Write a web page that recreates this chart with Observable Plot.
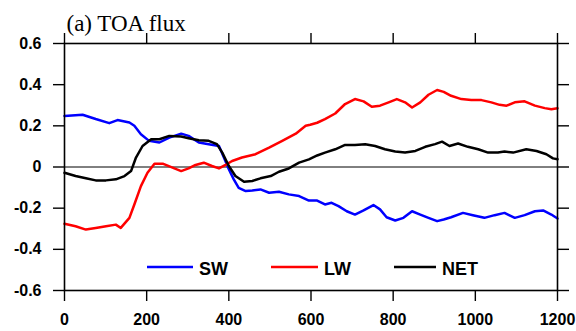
<!DOCTYPE html>
<html>
<head>
<meta charset="utf-8">
<script src="https://cdn.jsdelivr.net/npm/d3@7"></script>
<script src="https://cdn.jsdelivr.net/npm/@observablehq/plot@0.6"></script>
<style>
  html, body { margin: 0; padding: 0; background: #fff; }
  #chart { width: 576px; height: 331px; }
</style>
</head>
<body>
<div id="chart"></div>
<script>
const titleText = "(a) TOA flux";
const seriesNames = ["SW", "LW", "NET"];
const seriesColors = ["#0000ff", "#ff0000", "#000000"];
const xTicks = [0, 200, 400, 600, 800, 1000, 1200];
const xTickLabels = ["0", "200", "400", "600", "800", "1000", "1200"];
const yTicks = [-0.6, -0.4, -0.2, 0, 0.2, 0.4, 0.6];
const yTickLabels = ["-0.6", "-0.4", "-0.2", "0", "0.2", "0.4", "0.6"];

const swYears = [0,44,76,109,129,158,170,186,206,231,255,284,302,327,351,376,388,400,412,424,441,457,477,498,522,546,571,595,615,634,650,667,687,707,728,752,768,784,805,825,846,866,886,907,923,941,970,994,1022,1047,1071,1096,1120,1145,1165,1185,1200];
const swValues = [0.248,0.254,0.233,0.213,0.228,0.216,0.2,0.159,0.127,0.119,0.143,0.162,0.151,0.119,0.111,0.102,0.046,-0.011,-0.06,-0.101,-0.117,-0.114,-0.109,-0.125,-0.12,-0.133,-0.141,-0.163,-0.163,-0.182,-0.174,-0.19,-0.215,-0.231,-0.211,-0.185,-0.206,-0.244,-0.26,-0.247,-0.215,-0.231,-0.247,-0.263,-0.255,-0.244,-0.223,-0.234,-0.247,-0.234,-0.223,-0.247,-0.234,-0.215,-0.211,-0.231,-0.25];

const lwYears = [0,27,52,76,101,125,137,158,170,186,202,219,239,263,284,302,319,339,359,376,392,408,432,465,498,530,563,587,598,615,634,659,683,707,728,748,768,789,809,829,846,866,886,907,923,941,966,990,1015,1039,1059,1076,1096,1120,1145,1169,1185,1200];
const lwValues = [-0.276,-0.288,-0.304,-0.296,-0.288,-0.28,-0.296,-0.247,-0.182,-0.093,-0.028,0.016,0.016,-0.003,-0.02,-0.007,0.01,0.021,0.005,-0.007,0.01,0.029,0.046,0.062,0.094,0.127,0.162,0.2,0.205,0.215,0.233,0.26,0.306,0.33,0.319,0.293,0.298,0.314,0.33,0.314,0.289,0.314,0.351,0.374,0.365,0.346,0.33,0.325,0.325,0.314,0.302,0.298,0.314,0.319,0.298,0.286,0.281,0.285];

const netYears = [0,27,52,76,101,125,146,162,174,190,211,231,255,284,302,327,351,371,384,400,416,437,457,477,502,522,546,571,595,615,634,659,683,707,732,756,780,805,829,854,878,902,919,937,958,982,1007,1031,1055,1071,1092,1124,1149,1173,1189,1200];
const netValues = [-0.028,-0.044,-0.055,-0.065,-0.065,-0.06,-0.044,-0.02,0.046,0.102,0.135,0.135,0.151,0.148,0.14,0.13,0.127,0.111,0.07,0.005,-0.044,-0.072,-0.068,-0.055,-0.044,-0.023,-0.007,0.021,0.037,0.056,0.07,0.086,0.107,0.107,0.111,0.102,0.086,0.075,0.07,0.078,0.098,0.111,0.123,0.102,0.114,0.098,0.086,0.07,0.07,0.075,0.07,0.086,0.078,0.062,0.042,0.038];

const toRows = (years, values, name) => years.map((t, i) => ({t, v: values[i], series: name}));
const rows = [
  ...toRows(swYears, swValues, "SW"),
  ...toRows(lwYears, lwValues, "LW"),
  ...toRows(netYears, netValues, "NET")
];

const tickFont = {fontFamily: "Liberation Sans, Arial, sans-serif", fontSize: 16, fontWeight: "bold"};

const chart = Plot.plot({
  width: 576,
  height: 331,
  marginLeft: 64,
  marginRight: 19,
  marginTop: 43,
  marginBottom: 41,
  style: {fontFamily: "Liberation Sans, Arial, sans-serif", fontSize: "16px", fontWeight: "bold", background: "#fff", color: "#000", overflow: "visible"},
  x: {domain: [0, 1200], axis: null},
  y: {domain: [-0.6, 0.6], axis: null},
  color: {domain: seriesNames, range: seriesColors},
  marks: [
    Plot.ruleY([0], {stroke: "#000", strokeWidth: 1}),
    Plot.line(rows, {x: "t", y: "v", z: "series", stroke: "series", strokeWidth: 2.5, curve: "linear"}),
    Plot.frame({stroke: "#000", strokeWidth: 1.6}),
    Plot.axisX({anchor: "bottom", ticks: xTicks, tickSize: 11, tickPadding: 12, strokeWidth: 1.4, label: null,
      tickFormat: d => xTickLabels[xTicks.indexOf(d)], ...tickFont}),
    Plot.axisX({anchor: "top", ticks: xTicks, tickSize: 11, strokeWidth: 1.4, label: null, tickFormat: () => ""}),
    Plot.axisY({anchor: "left", ticks: yTicks, tickSize: 11, tickPadding: 12, strokeWidth: 1.4, label: null,
      tickFormat: d => yTickLabels[yTicks.findIndex(y => Math.abs(y - d) < 1e-9)], ...tickFont}),
    Plot.axisY({anchor: "right", ticks: yTicks, tickSize: 11, strokeWidth: 1.4, label: null, tickFormat: () => ""}),
    Plot.text([titleText], {frameAnchor: "top-left", text: d => d, textAnchor: "start", lineAnchor: "bottom",
      dx: 2, dy: -13, fontFamily: "Liberation Serif, Times New Roman, serif", fontSize: 23, fontWeight: "normal", fill: "#000"})
  ]
});

document.getElementById("chart").appendChild(chart);

// Legend (inside the frame, near the bottom)
const legendItems = [
  {name: "SW", x1: 147, x2: 193, tx: 199},
  {name: "LW", x1: 271, x2: 318, tx: 324},
  {name: "NET", x1: 394, x2: 436, tx: 442}
];
const svg = d3.select(chart);
const lg = svg.append("g").attr("class", "legend").attr("text-anchor", "start");
legendItems.forEach((it) => {
  lg.append("line").attr("x1", it.x1).attr("x2", it.x2).attr("y1", 267).attr("y2", 267)
    .attr("stroke", seriesColors[seriesNames.indexOf(it.name)]).attr("stroke-width", 2.6);
  lg.append("text").attr("x", it.tx).attr("y", 275).text(it.name)
    .attr("text-anchor", "start")
    .attr("font-family", "Liberation Sans, Arial, sans-serif").attr("font-size", 18).attr("font-weight", "bold").attr("fill", "#000");
});
</script>
</body>
</html>
